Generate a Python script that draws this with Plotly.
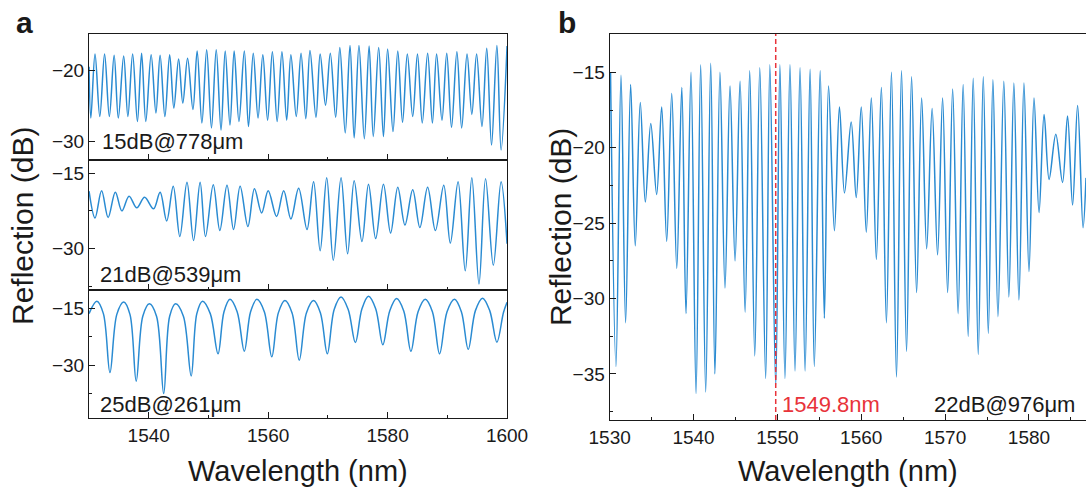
import plotly.graph_objects as go

# panel a, top trace (15dB@778um): alternating peak / dip points
a_top_wl = [1530.0, 1530.3, 1531.0, 1531.8, 1532.6, 1533.4, 1534.2, 1534.9, 1535.8, 1536.5,
            1537.3, 1538.1, 1538.8, 1539.5, 1540.4, 1541.2, 1541.9, 1542.7, 1543.5, 1544.2,
            1545.0, 1545.7, 1546.5, 1547.4, 1548.1, 1548.9, 1549.7, 1550.5, 1551.3, 1552.1,
            1552.8, 1553.6, 1554.3, 1555.1, 1556.0, 1556.7, 1557.5, 1558.3, 1559.1, 1559.9,
            1560.7, 1561.5, 1562.3, 1563.1, 1563.8, 1564.7, 1565.5, 1566.3, 1567.0, 1568.0,
            1568.7, 1569.6, 1570.4, 1571.3, 1572.0, 1572.9, 1573.7, 1574.4, 1575.2, 1576.1,
            1576.9, 1577.6, 1578.5, 1579.3, 1580.0, 1580.9, 1581.7, 1582.5, 1583.3, 1584.2,
            1585.0, 1585.8, 1586.7, 1587.5, 1588.2, 1589.1, 1589.9, 1590.7, 1591.6, 1592.4,
            1593.3, 1594.1, 1594.9, 1595.8, 1596.6, 1597.4, 1598.3, 1599.0, 1600.0]
a_top_db = [-19.5, -26.7, -17.7, -26.5, -17.7, -26.5, -17.9, -26.7, -18.0, -26.5,
            -17.7, -27.2, -17.6, -27.2, -17.8, -26.0, -17.9, -26.5, -17.8, -25.3,
            -18.4, -24.6, -18.3, -25.5, -17.3, -27.4, -17.1, -28.1, -17.1, -28.4,
            -17.3, -27.7, -17.3, -27.2, -17.3, -27.9, -17.6, -26.7, -17.8, -27.0,
            -17.4, -27.2, -17.4, -27.0, -17.8, -26.5, -17.6, -26.8, -17.2, -26.6,
            -17.7, -24.9, -17.6, -26.6, -16.8, -28.8, -16.5, -29.5, -16.5, -29.6,
            -16.6, -29.3, -16.8, -29.3, -17.0, -28.6, -17.3, -27.3, -17.7, -26.5,
            -17.7, -27.4, -17.6, -27.4, -17.7, -27.0, -17.6, -28.0, -17.4, -28.1,
            -17.7, -26.2, -17.7, -27.9, -16.9, -30.5, -16.5, -31.2, -16.6]

# panel a, middle trace (21dB@539um)
a_mid_wl = [1530.0, 1531.0, 1532.1, 1533.2, 1534.4, 1535.5, 1536.7, 1538.0, 1539.3, 1540.8,
            1541.9, 1543.0, 1544.1, 1545.2, 1546.4, 1547.5, 1548.6, 1549.5, 1550.8, 1551.9,
            1553.1, 1554.2, 1555.3, 1556.6, 1557.7, 1558.9, 1560.0, 1561.4, 1562.6, 1563.8,
            1565.1, 1566.5, 1567.6, 1568.7, 1569.8, 1570.9, 1572.2, 1573.3, 1574.4, 1575.7,
            1576.8, 1578.0, 1579.3, 1580.5, 1581.7, 1582.9, 1584.2, 1585.4, 1586.7, 1588.0,
            1589.4, 1590.5, 1591.8, 1593.0, 1594.1, 1595.3, 1596.4, 1597.7, 1599.0, 1600.0]
a_mid_db = [-18.6, -23.9, -18.5, -23.8, -18.8, -22.5, -19.6, -21.9, -19.8, -22.1,
            -18.8, -24.5, -17.6, -27.6, -16.8, -28.4, -16.8, -27.6, -17.3, -26.4,
            -17.4, -26.2, -17.6, -25.6, -18.1, -22.9, -18.5, -23.6, -18.5, -24.1,
            -18.0, -26.2, -16.7, -30.4, -15.9, -32.3, -15.9, -31.0, -16.5, -28.6,
            -17.2, -28.0, -17.2, -26.9, -17.8, -25.3, -18.3, -25.8, -17.8, -26.4,
            -17.4, -28.9, -16.7, -34.4, -15.9, -37.0, -16.1, -33.3, -16.7, -29.0]

# panel a, bottom trace (25dB@261um): peak, shoulder, dip, shoulder, ...
a_bot_wl = [1530.0, 1531.3, 1532.4, 1533.5, 1534.65, 1535.8, 1536.85, 1537.9, 1539.0, 1540.1,
            1541.3, 1542.5, 1543.5, 1544.5, 1545.8, 1547.1, 1548.05, 1549.0, 1550.3, 1551.6,
            1552.6, 1553.6, 1554.8, 1556.0, 1557.05, 1558.1, 1559.35, 1560.6, 1561.7, 1562.8,
            1564.0, 1565.2, 1566.4, 1567.6, 1568.75, 1569.9, 1571.05, 1572.2, 1573.4, 1574.6,
            1575.7, 1576.8, 1578.0, 1579.2, 1580.35, 1581.5, 1582.7, 1583.9, 1585.1, 1586.3,
            1587.5, 1588.7, 1589.95, 1591.2, 1592.35, 1593.5, 1594.7, 1595.9, 1597.1, 1598.3,
            1599.4, 1600.0]
a_bot_db = [-16.3, -13.0, -16.3, -32.0, -16.5, -13.2, -16.5, -34.3, -17.0, -13.7,
            -17.0, -37.6, -17.0, -13.7, -17.0, -32.9, -16.3, -13.0, -16.3, -27.0,
            -15.8, -12.5, -15.8, -26.3, -15.8, -12.5, -15.8, -27.8, -16.1, -12.8,
            -16.1, -28.7, -16.1, -12.8, -16.1, -27.0, -15.2, -11.9, -15.2, -24.0,
            -15.0, -11.7, -15.0, -24.6, -15.6, -12.3, -15.6, -26.3, -15.8, -12.5,
            -15.8, -27.0, -15.8, -12.5, -15.8, -25.8, -15.5, -12.2, -15.5, -23.9,
            -16.0, -13.3]

# panel b (22dB@976um)
b_wl = [1530.1, 1530.75, 1531.35, 1531.9, 1532.5, 1533.05, 1533.65, 1534.25, 1534.9, 1535.6,
        1536.2, 1536.8, 1537.4, 1538.0, 1538.6, 1539.1, 1539.7, 1540.3, 1540.85, 1541.45,
        1542.05, 1542.55, 1543.15, 1543.75, 1544.35, 1544.95, 1545.55, 1546.15, 1546.7, 1547.3,
        1547.9, 1548.6, 1549.1, 1549.8, 1550.3, 1550.9, 1551.5, 1552.1, 1552.7, 1553.3,
        1553.9, 1554.4, 1555.1, 1555.6, 1556.1, 1556.8, 1557.4, 1558.0, 1558.8, 1559.4,
        1560.0, 1560.6, 1561.2, 1561.8, 1562.4, 1563.0, 1563.6, 1564.2, 1564.8, 1565.4,
        1566.0, 1566.6, 1567.2, 1567.8, 1568.45, 1569.1, 1569.7, 1570.3, 1570.9, 1571.55,
        1572.15, 1572.75, 1573.35, 1573.95, 1574.55, 1575.15, 1575.7, 1576.3, 1577.0, 1577.6,
        1578.2, 1578.8, 1579.4, 1580.0, 1580.6, 1581.2, 1581.8, 1582.4, 1583.2, 1584.0,
        1584.6, 1585.2, 1585.8, 1586.45, 1586.8]
b_db = [-15.0, -34.5, -15.2, -31.6, -15.8, -26.5, -17.0, -23.6, -18.4, -23.1,
        -17.3, -26.2, -16.4, -28.0, -16.0, -31.0, -15.0, -36.3, -14.5, -36.2,
        -14.4, -35.0, -15.0, -29.3, -15.9, -27.5, -15.6, -30.9, -14.9, -33.8,
        -14.7, -35.3, -14.5, -35.8, -14.5, -35.3, -14.5, -34.8, -14.7, -34.8,
        -14.8, -34.5, -14.9, -31.3, -15.9, -25.5, -17.3, -23.0, -18.3, -23.3,
        -17.3, -25.6, -16.7, -27.4, -16.0, -31.6, -15.0, -35.2, -14.9, -33.5,
        -15.3, -29.6, -16.7, -26.7, -17.4, -27.1, -16.7, -29.6, -16.1, -31.0,
        -15.8, -32.5, -15.4, -33.7, -15.3, -32.3, -15.5, -31.2, -15.6, -29.9,
        -15.7, -30.1, -15.7, -28.2, -16.7, -24.3, -17.8, -22.1, -19.1, -22.3,
        -17.9, -23.8, -17.2, -25.3, -22.0]

marker_wl = 1549.8

BLUE = '#2a8bd2'
RED = '#e8333a'
INK = '#1a1a1a'
FONT = 'Arial, Liberation Sans, sans-serif'


def axis_style(**kw):
    d = dict(showline=True, linecolor=INK, linewidth=1.2, mirror=True,
             ticks='inside', ticklen=6, tickwidth=1.2, tickcolor=INK,
             showgrid=False, zeroline=False, automargin=False,
             tickfont=dict(family=FONT, size=19, color=INK))
    d.update(kw)
    return d


def minor(step):
    return dict(ticks='inside', ticklen=3, tickwidth=1.2, tickcolor=INK, dtick=step)


fig = go.Figure()

traces = [
    (a_top_wl, a_top_db, 'x', 'y'),
    (a_mid_wl, a_mid_db, 'x2', 'y2'),
    (a_bot_wl, a_bot_db, 'x3', 'y3'),
    (b_wl, b_db, 'x4', 'y4'),
]
for xs, ys, xa, ya in traces:
    fig.add_trace(go.Scatter(x=xs, y=ys, xaxis=xa, yaxis=ya, mode='lines',
                             line=dict(color=BLUE, width=1.5, shape='spline', smoothing=1),
                             showlegend=False, hoverinfo='skip'))

# panel a axes
a_dom = [0.0820, 0.4669]
fig.update_layout(
    xaxis=axis_style(domain=a_dom, range=[1530, 1600], tick0=1520, dtick=20,
                     showticklabels=False, anchor='y', minor=minor(10)),
    yaxis=axis_style(domain=[0.6735, 0.9306], range=[-32.6, -14.9], tick0=-20, dtick=10,
                     anchor='x'),
    xaxis2=axis_style(domain=a_dom, range=[1530, 1600], tick0=1520, dtick=20,
                      showticklabels=False, anchor='y2', minor=minor(10)),
    yaxis2=axis_style(domain=[0.4082, 0.6735], range=[-38.2, -12.4], tick0=-15, dtick=15,
                      anchor='x2', minor=minor(7.5)),
    xaxis3=axis_style(domain=a_dom, range=[1530, 1600], tick0=1520, dtick=20,
                      anchor='y3', minor=minor(10)),
    yaxis3=axis_style(domain=[0.1469, 0.4082], range=[-44.1, -10.0], tick0=-15, dtick=15,
                      anchor='x3', minor=minor(7.5)),
    # panel b axes
    xaxis4=axis_style(domain=[0.5614, 1.0], range=[1530, 1586.8], tick0=1530, dtick=10,
                      anchor='y4', minor=minor(5)),
    yaxis4=axis_style(domain=[0.1429, 0.9306], range=[-38.05, -12.46], tick0=-15, dtick=5,
                      anchor='x4', mirror=False, minor=minor(2.5)),
)

# dashed marker at the chosen dip
fig.add_shape(type='line', xref='x4', yref='y4 domain', x0=marker_wl, x1=marker_wl,
              y0=0, y1=1, line=dict(color=RED, width=1.5, dash='5px,3px'))


def note(text, x, y, size=22, color=INK, xanchor='left', **kw):
    fig.add_annotation(text=text, xref='paper', yref='paper', x=x, y=y,
                       xanchor=xanchor, yanchor='middle', showarrow=False,
                       font=dict(family=FONT, size=size, color=color), **kw)


note('<b>a</b>', 0.023, 0.955, size=30, xanchor='center')
note('<b>b</b>', 0.522, 0.955, size=30, xanchor='center')
note('Reflection (dB)', 0.0212, 0.5388, size=30, xanchor='center', textangle=-90)
note('Reflection (dB)', 0.5157, 0.5367, size=30, xanchor='center', textangle=-90)
note('Wavelength (nm)', 0.2744, 0.038, size=29, xanchor='center')
note('Wavelength (nm)', 0.7808, 0.038, size=29, xanchor='center')
note('15dB@778μm', 0.0921, 0.7122)
note('21dB@539μm', 0.0902, 0.4408)
note('25dB@261μm', 0.0902, 0.1755)
note('22dB@976μm', 0.8582, 0.1735)
note('%.1fnm' % marker_wl, 0.7182, 0.1755, color=RED)

fig.update_layout(width=1086, height=490, autosize=False,
                  margin=dict(l=0, r=0, t=0, b=0),
                  paper_bgcolor='white', plot_bgcolor='white',
                  font=dict(family=FONT, color=INK))

# the page body has a default 8px margin; drop it so the figure sits at the corner
fig.write_html("out.html", config={'displayModeBar': False},
               post_script="document.body.style.margin='0';")
